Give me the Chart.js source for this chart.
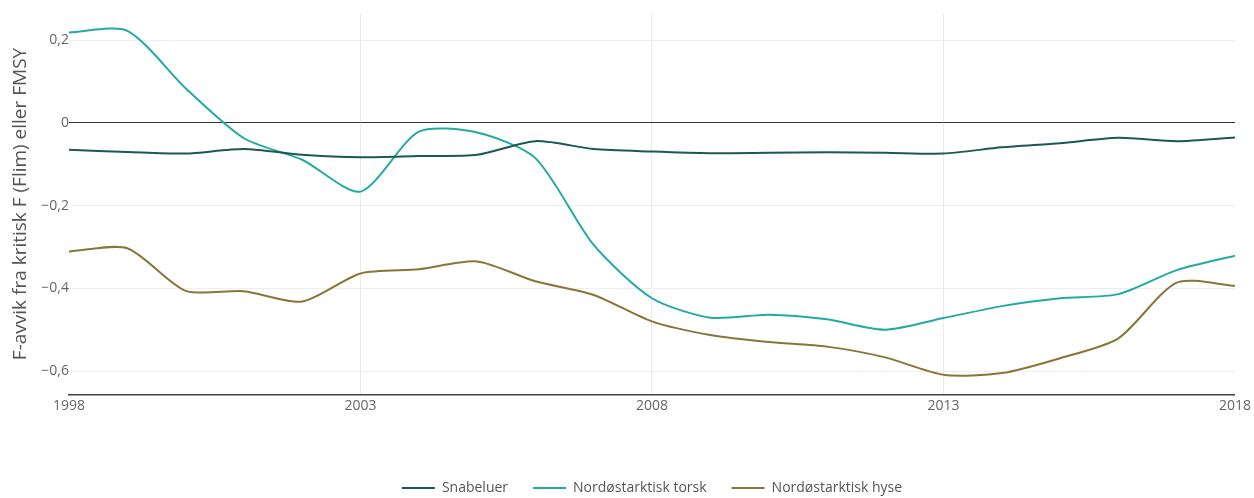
<!DOCTYPE html>
<html lang="no">
<head>
  <meta charset="UTF-8" />
  <title>F-avvik</title>
  <script src="https://cdn.jsdelivr.net/npm/chart.js"></script>
  <style>
    html, body { margin: 0; padding: 0; background: #fff; }
    #wrap { width: 1254px; height: 498px; position: relative; }
  </style>
</head>
<body>
  <div id="wrap"><canvas id="chart"></canvas></div>

  <script>
    const years = [1998, 1999, 2000, 2001, 2002, 2003, 2004, 2005, 2006, 2007, 2008,
                   2009, 2010, 2011, 2012, 2013, 2014, 2015, 2016, 2017, 2018];

    const snabeluer = [-0.065, -0.07, -0.074, -0.063, -0.077, -0.083, -0.08, -0.077, -0.044, -0.063, -0.069,
                       -0.073, -0.072, -0.071, -0.072, -0.074, -0.059, -0.049, -0.036, -0.044, -0.035];
    const torsk = [0.219, 0.223, 0.084, -0.037, -0.089, -0.166, -0.021, -0.023, -0.085, -0.295, -0.424,
                   -0.471, -0.464, -0.475, -0.5, -0.472, -0.443, -0.424, -0.414, -0.356, -0.321];
    const hyse = [-0.311, -0.303, -0.406, -0.407, -0.432, -0.364, -0.354, -0.335, -0.383, -0.416, -0.48,
                  -0.513, -0.53, -0.541, -0.567, -0.609, -0.605, -0.569, -0.521, -0.386, -0.394];

    const seriesNames = ['Snabeluer', 'Nordøstarktisk torsk', 'Nordøstarktisk hyse'];
    const seriesColors = ['#1b5a52', '#22aba2', '#867638'];
    const yTicks = [-0.6, -0.4, -0.2, 0, 0.2];
    const xTicks = [1998, 2003, 2008, 2013, 2018];

    const toPoints = arr => arr.map((v, i) => ({ x: years[i], y: v }));
    const fmt = v => (v < 0 ? '\u2212' : '') + Math.abs(v).toString().replace('.', ',');

    const datasets = [snabeluer, torsk, hyse].map((arr, i) => ({
      label: seriesNames[i],
      data: toPoints(arr),
      borderColor: seriesColors[i],
      backgroundColor: seriesColors[i],
      borderWidth: 2,
      pointRadius: 0,
      tension: 0.25,
      fill: false
    }));

    Chart.defaults.font.family = '"Open Sans", sans-serif';

    new Chart(document.getElementById('chart'), {
      type: 'line',
      data: { datasets },
      options: {
        responsive: true,
        maintainAspectRatio: false,
        animation: false,
        layout: { padding: { top: 13, right: 15, left: 9, bottom: -7 } },
        plugins: {
          tooltip: { enabled: false },
          legend: {
            position: 'bottom',
            fullSize: false,
            labels: {
              color: '#555',
              font: { size: 14 },
              boxWidth: 33,
              boxHeight: 2,
              padding: 25,
              generateLabels: chart => chart.data.datasets.map((ds, i) => ({
                text: ds.label,
                fillStyle: ds.borderColor,
                strokeStyle: ds.borderColor,
                lineWidth: 0,
                fontColor: '#555',
                datasetIndex: i
              }))
            }
          }
        },
        scales: {
          x: {
            type: 'linear',
            min: 1998,
            max: 2018,
            afterBuildTicks: s => { s.ticks = xTicks.map(v => ({ value: v })); },
            afterFit: s => { s.height = 61; },
            ticks: { color: '#666', font: { size: 14 }, padding: 3, callback: v => String(v), maxRotation: 0 },
            grid: {
              color: ctx => (ctx.tick && (ctx.tick.value === 1998 || ctx.tick.value === 2018)) ? 'rgba(0,0,0,0)' : '#ebebeb',
              drawTicks: false
            },
            border: { display: true, color: '#444', width: 1.5 }
          },
          y: {
            min: -0.658,
            max: 0.266,
            afterBuildTicks: s => { s.ticks = yTicks.map(v => ({ value: v })); },
            afterFit: s => { s.width = 60; },
            ticks: { color: '#666', font: { size: 14 }, padding: 0, callback: v => fmt(v) },
            grid: {
              color: ctx => (ctx.tick && ctx.tick.value === 0) ? '#333' : '#eeeeee',
              drawTicks: false
            },
            border: { display: false },
            title: {
              display: true,
              text: 'F-avvik fra kritisk F (Flim) eller FMSY',
              color: '#555',
              font: { size: 19 },
              padding: { top: 0, bottom: 4 }
            }
          }
        }
      }
    });
  </script>
</body>
</html>
